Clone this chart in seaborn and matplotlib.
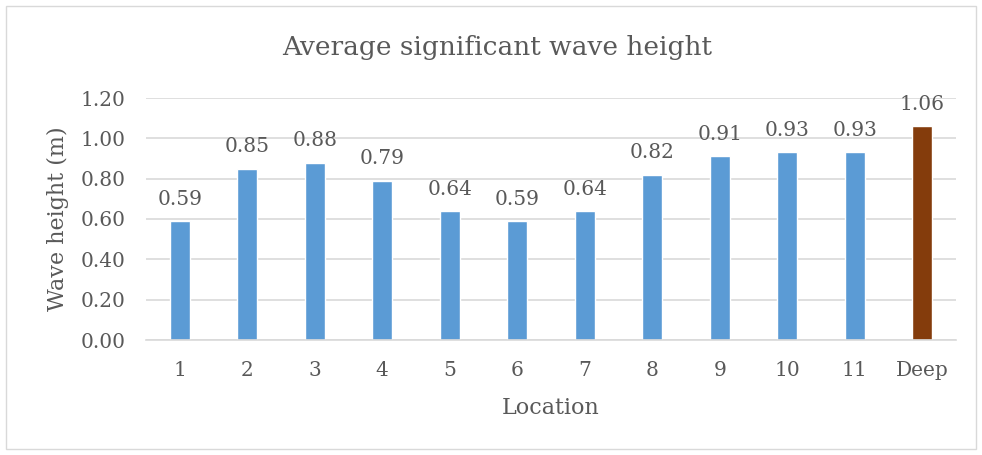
import matplotlib
matplotlib.use("Agg")
import matplotlib.pyplot as plt
import seaborn as sns
import pandas as pd
from matplotlib.patches import Rectangle

locations = ["1", "2", "3", "4", "5", "6", "7", "8", "9", "10", "11", "Deep"]
heights = [0.59, 0.85, 0.88, 0.79, 0.64, 0.59, 0.64, 0.82, 0.91, 0.93, 0.93, 1.06]
labels = ["0.59", "0.85", "0.88", "0.79", "0.64", "0.59", "0.64", "0.82", "0.91", "0.93", "0.93", "1.06"]
yticks = [0.0, 0.2, 0.4, 0.6, 0.8, 1.0, 1.2]
colors = ["#5B9BD5"] * 11 + ["#843C0C"]

sns.set_style("white")
plt.rcParams["font.family"] = ["DejaVu Serif"]
txt = "#595959"

df = pd.DataFrame({"Location": locations, "Height": heights})

fig = plt.figure(figsize=(9.82, 4.55), dpi=100)
ax = fig.add_axes([146/982, 1-340/455, (956-146)/982, (340-98)/455])
sns.barplot(data=df, x="Location", y="Height", hue="Location", palette=colors,
            order=locations, width=0.3, legend=False, ax=ax, saturation=1)

ax.set_ylim(0, 1.2)
ax.set_yticks(yticks)
ax.set_yticklabels([f"{v:.2f}" for v in yticks])
ax.yaxis.grid(True, color="#D9D9D9", linewidth=1.2)
ax.set_axisbelow(True)
for s in ["top", "right", "left"]:
    ax.spines[s].set_visible(False)
ax.spines["bottom"].set_color("#D9D9D9")
ax.spines["bottom"].set_linewidth(1.2)
ax.tick_params(axis="y", length=0, labelsize=14.5, colors=txt, pad=15)
ax.tick_params(axis="x", length=0, labelsize=14.5, colors=txt, pad=15)
ax.set_xlim(-0.5, len(locations) - 0.5)

for i, (h, lab) in enumerate(zip(heights, labels)):
    ax.text(i, h + 0.108, lab, ha="center", va="center", fontsize=14.5, color=txt)

ax.set_xlabel("")
ax.set_ylabel("")
fig.text(551/982, 1-408/455, "Location", ha="center", va="center", fontsize=16, color=txt)
fig.text(58/982, 1-219/455, "Wave height (m)", ha="center", va="center", rotation=90,
         fontsize=16, color=txt)
fig.text(497/982, 1-47/455, "Average significant wave height", ha="center", va="center",
         fontsize=19, color=txt)

fig.patches.append(Rectangle((6/982, 1-449/455), (976-6)/982, (449-6)/455,
                             transform=fig.transFigure, fill=False,
                             edgecolor="#D9D9D9", linewidth=1))

fig.savefig("out.png", dpi=100)
